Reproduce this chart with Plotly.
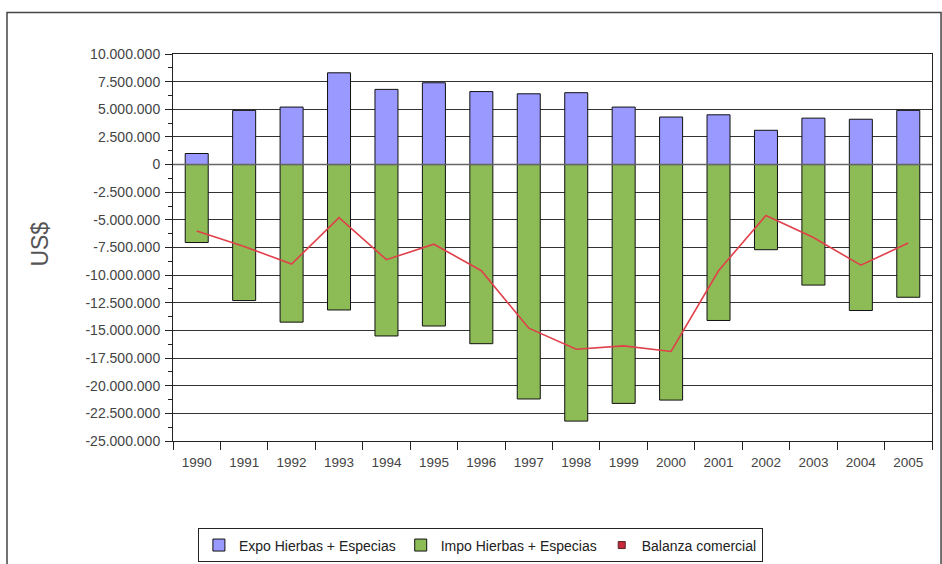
import plotly.graph_objects as go

years = [str(y) for y in range(1990, 2006)]
expo = [1.0e6, 4.9e6, 5.2e6, 8.3e6, 6.8e6, 7.4e6, 6.6e6, 6.4e6, 6.5e6, 5.2e6,
        4.3e6, 4.5e6, 3.1e6, 4.2e6, 4.1e6, 4.9e6]
impo = [-7.05e6, -12.3e6, -14.25e6, -13.15e6, -15.5e6, -14.6e6, -16.2e6, -21.2e6,
        -23.2e6, -21.6e6, -21.3e6, -14.1e6, -7.7e6, -10.9e6, -13.2e6, -12.0e6]
balanza = [-6.0e6, -7.4e6, -9.0e6, -4.8e6, -8.6e6, -7.2e6, -9.6e6, -14.8e6,
           -16.7e6, -16.4e6, -16.9e6, -9.6e6, -4.6e6, -6.6e6, -9.1e6, -7.1e6]
y_ticks = [10000000 - 2500000 * i for i in range(15)]
y_ticktext = [f"{v:,}".replace(",", ".") for v in y_ticks]

FONT = "Liberation Sans, Arial, sans-serif"

fig = go.Figure()
fig.add_trace(go.Bar(x=years, y=expo, name="Expo Hierbas + Especias",
                     marker=dict(color="#9999FF", line=dict(color="#111111", width=1))))
fig.add_trace(go.Bar(x=years, y=impo, name="Impo Hierbas + Especias",
                     marker=dict(color="#8DBB55", line=dict(color="#111111", width=1))))
fig.add_trace(go.Scatter(x=years, y=balanza, name="Balanza comercial", mode="lines",
                         line=dict(color="#E0404A", width=1.6), showlegend=False))
fig.add_trace(go.Scatter(x=[None], y=[None], name="Balanza comercial", mode="markers",
                         marker=dict(symbol="square", size=7, color="#C8283A",
                                     line=dict(color="#552222", width=1))))

fig.update_layout(
    width=942, height=572,
    margin=dict(l=173, r=10, t=54, b=129),
    paper_bgcolor="white", plot_bgcolor="white",
    barmode="relative", bargap=0.515,
    font=dict(family=FONT, size=13, color="#333333"),
    showlegend=True,
    legend=dict(orientation="h", x=0.405, xanchor="center", y=-0.226, yanchor="top",
                bordercolor="#222222", borderwidth=1, font=dict(size=14, color="#222222"),
                traceorder="normal", itemwidth=30, tracegroupgap=0),
    xaxis=dict(type="category", showline=True, linecolor="#222222", linewidth=1,
               mirror=True, ticks="outside", ticklen=8, tickcolor="#222222",
               tickson="boundaries", showgrid=False, ticklabelstandoff=9,
               tickfont=dict(size=13.5, color="#444444")),
    yaxis=dict(range=[-25000000, 10000000], tickvals=y_ticks, ticktext=y_ticktext,
               showline=True, linecolor="#222222", linewidth=1, mirror=True,
               ticks="outside", ticklen=7, tickcolor="#222222", ticklabelstandoff=2,
               showgrid=True, gridcolor="#333333", gridwidth=1,
               zeroline=False,
               minor=dict(dtick=1250000, tick0=0, ticks="outside", ticklen=4,
                          tickcolor="#222222", showgrid=False),
               tickfont=dict(size=14, color="#444444")),
    shapes=[dict(type="rect", xref="paper", yref="paper",
                 x0=-0.2187, x1=1.0119, y0=-0.329, y1=1.1075,
                 line=dict(color="#444444", width=1.5)),
            dict(type="line", xref="paper", yref="y", x0=0, x1=1, y0=0, y1=0,
                 layer="above", line=dict(color="#666666", width=1.5))],
    annotations=[dict(text="US$", xref="paper", yref="paper", x=-0.175, y=0.508,
                      xanchor="center", yanchor="middle",
                      textangle=-90, showarrow=False,
                      font=dict(size=23, color="#555555"))],
)

fig.write_html("out.html", config={"displayModeBar": False},
               post_script="document.body.style.margin='0';document.body.style.overflow='hidden';")
